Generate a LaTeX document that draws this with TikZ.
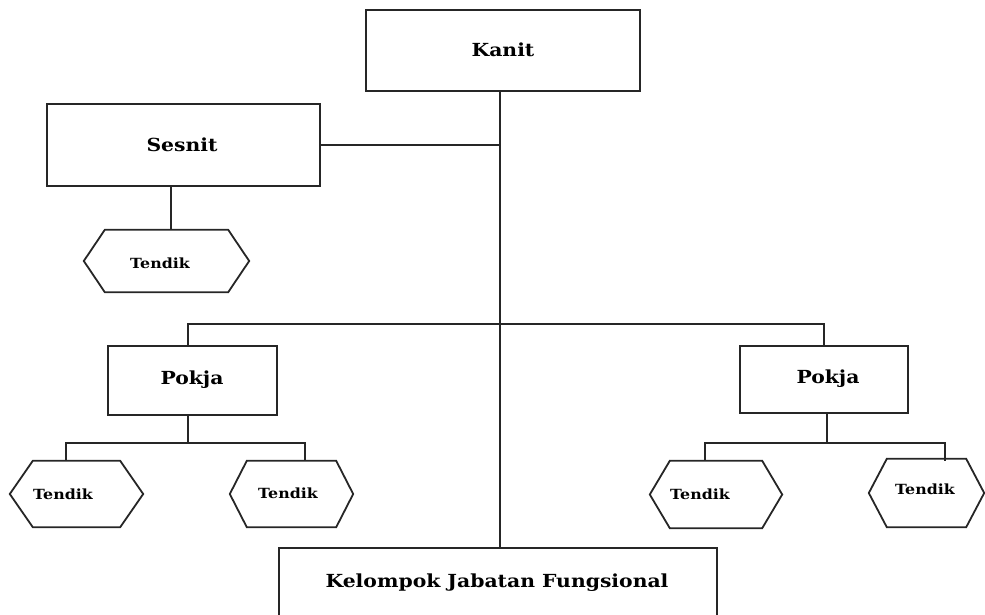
\documentclass[tikz,border=0pt]{standalone}
\usepackage{fontspec}
\setmainfont{DejaVu Serif}[FakeStretch=1.13]
\usetikzlibrary{calc}
\tikzset{
  conn/.style={line width=1.8pt, draw=black!85},
  boxnode/.style={draw=black!85, line width=1.8pt, rectangle, inner sep=0pt},
  bigtext/.style={font=\bfseries\fontsize{18}{20}\selectfont, inner sep=0pt},
  smalltext/.style={font=\bfseries\fontsize{14}{16}\selectfont, inner sep=0pt},
  hexarea/.style={rectangle, inner sep=0pt, draw=none}
}
\newcommand{\hexdraw}[2]{%
  \draw[line width=1.8pt, draw=black!85, line join=miter] (#1.west) -- ([xshift=#2pt]#1.north west) -- ([xshift=-#2pt]#1.north east) -- (#1.east) -- ([xshift=-#2pt]#1.south east) -- ([xshift=#2pt]#1.south west) -- cycle;}
\begin{document}
\begin{tikzpicture}[x=1pt,y=-1pt]
\useasboundingbox (0,0) rectangle (985,615);
% boxes
\node[boxnode, minimum width=274pt, minimum height=81pt] (kanit) at (503,50.5) {};
\node[bigtext] (kanitt) at (503,50) {Kanit};
\node[boxnode, minimum width=273pt, minimum height=82pt] (sesnit) at (183.5,145) {};
\node[bigtext] (sesnitt) at (182,145) {Sesnit};
\node[boxnode, minimum width=169pt, minimum height=69pt] (pokjaL) at (192.5,380.5) {};
\node[bigtext] (pokjaLt) at (192,380) {Pokja};
\node[boxnode, minimum width=168pt, minimum height=67pt] (pokjaR) at (824,379.5) {};
\node[bigtext] (pokjaRt) at (828,379) {Pokja};
\node[boxnode, minimum width=438pt, minimum height=90pt] (kjf) at (498,593) {};
\node[bigtext] (kjft) at (497,583) {Kelompok Jabatan Fungsional};
% hexagons
\node[hexarea, minimum width=165pt, minimum height=62pt] (h0) at (166.5,261) {};
\hexdraw{h0}{21}
\node[smalltext] (h0t) at (160,263) {Tendik};
\node[hexarea, minimum width=133pt, minimum height=66pt] (h1) at (76.5,494) {};
\hexdraw{h1}{23}
\node[smalltext] (h1t) at (63,494) {Tendik};
\node[hexarea, minimum width=123pt, minimum height=66pt] (h2) at (291.5,494) {};
\hexdraw{h2}{17}
\node[smalltext] (h2t) at (288,493) {Tendik};
\node[hexarea, minimum width=132pt, minimum height=67pt] (h3) at (716,494.5) {};
\hexdraw{h3}{20}
\node[smalltext] (h3t) at (700,494) {Tendik};
\node[hexarea, minimum width=115pt, minimum height=68pt] (h4) at (926.5,493) {};
\hexdraw{h4}{18}
\node[smalltext] (h4t) at (925,489) {Tendik};
% connectors
\coordinate (trunk) at ([xshift=-3pt]kanit.south);
\draw[conn] (trunk) -- (trunk |- kjf.north);
\draw[conn] (sesnit.east) -- (sesnit.east -| trunk);
\draw[conn] ([xshift=-12.5pt]sesnit.south) -- ([xshift=-12.5pt]sesnit.south |- h0.north);
\coordinate (busL) at (188,324);
\coordinate (busR) at (824,324);
\draw[conn] (busL |- pokjaL.north) -- (busL) -- (busR) -- (busR |- pokjaR.north);
% left pokja
\coordinate (pl) at ([xshift=-4.5pt]pokjaL.south);
\coordinate (plL) at (66,443);
\coordinate (plR) at (305,443);
\draw[conn] (pl) -- (pl |- plL);
\draw[conn] (plL |- h1.north) -- (plL) -- (plR) -- (plR |- h2.north);
% right pokja
\coordinate (pr) at ([xshift=3pt]pokjaR.south);
\coordinate (prL) at (705,443);
\coordinate (prR) at (945,443);
\draw[conn] (pr) -- (pr |- prL);
\draw[conn] (prL |- h3.north) -- (prL) -- (prR) -- ([yshift=-2pt]prR |- h4.north);
\end{tikzpicture}
\end{document}
